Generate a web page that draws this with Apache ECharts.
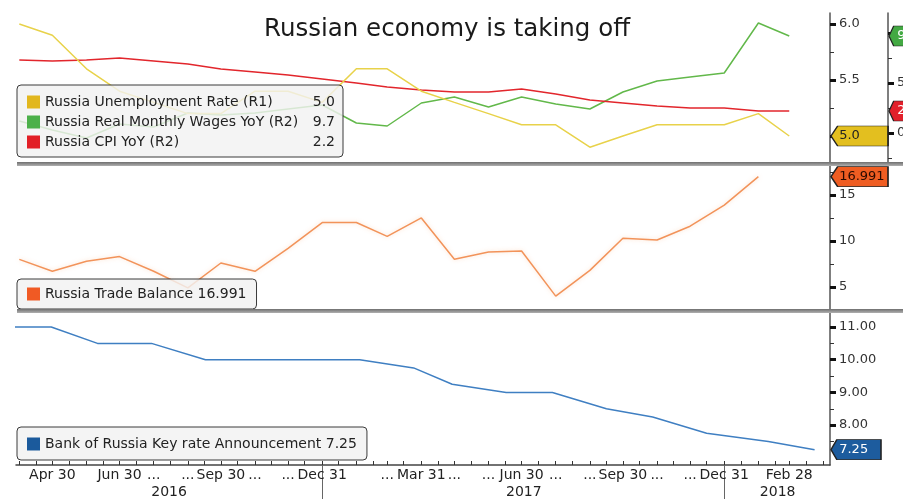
<!DOCTYPE html>
<html><head><meta charset="utf-8">
<script src="https://cdn.jsdelivr.net/npm/echarts@6/dist/echarts.min.js"></script>
<style>html,body{margin:0;padding:0;background:#fff}#c{width:903px;height:499px}</style>
</head><body><div id="c"></div>
<script>
// ---------- data ----------
const months = ['2016-03-31','2016-04-30','2016-05-31','2016-06-30','2016-07-31','2016-08-31','2016-09-30','2016-10-31','2016-11-30','2016-12-31',
  '2017-01-31','2017-02-28','2017-03-31','2017-04-30','2017-05-31','2017-06-30','2017-07-31','2017-08-31','2017-09-30','2017-10-31','2017-11-30','2017-12-31',
  '2018-01-31','2018-02-28'];
const monthLabels = ['', 'Apr 30', '', 'Jun 30', '...', '...', 'Sep 30', '...', '...', 'Dec 31',
  '', '...', 'Mar 31', '...', '...', 'Jun 30', '...', '...', 'Sep 30', '...', '...', 'Dec 31',
  '', 'Feb 28'];
const years = ['2016', '2017', '2018'];

const unemployment = [6.0, 5.9, 5.6, 5.4, 5.3, 5.2, 5.2, 5.4, 5.4, 5.3, 5.6, 5.6, 5.4, 5.3, 5.2, 5.1, 5.1, 4.9, 5.0, 5.1, 5.1, 5.1, 5.2, 5.0];
const wages = [1.2, 0.3, -0.5, 0.9, 0.6, 2.0, 1.8, 2.0, 2.4, 2.8, 1.0, 0.7, 3.0, 3.6, 2.6, 3.6, 2.9, 2.4, 4.1, 5.2, 5.6, 6.0, 11.0, 9.7];
const cpi = [7.3, 7.2, 7.3, 7.5, 7.2, 6.9, 6.4, 6.1, 5.8, 5.4, 5.0, 4.6, 4.3, 4.1, 4.1, 4.4, 3.9, 3.3, 3.0, 2.7, 2.5, 2.5, 2.2, 2.2];
const trade = [8.0, 6.7, 7.8, 8.3, 6.7, 4.9, 7.6, 6.7, 9.2, 12.0, 12.0, 10.5, 12.5, 8.0, 8.8, 8.9, 4.0, 6.8, 10.3, 10.1, 11.6, 13.9, 16.991, null];
const keyRateDates = ['2016-03-18','2016-04-29','2016-06-10','2016-07-29','2016-09-16','2016-10-28','2016-12-16','2017-02-03','2017-03-24','2017-04-28',
  '2017-06-16','2017-07-28','2017-09-15','2017-10-27','2017-12-15','2018-02-09','2018-03-23'];
const keyRate = [11.0, 11.0, 10.5, 10.5, 10.0, 10.0, 10.0, 10.0, 9.75, 9.25, 9.0, 9.0, 8.5, 8.25, 7.75, 7.5, 7.25];

const r1Ticks = [5.0, 5.5, 6.0], r1Minor = [5.25, 5.75];
const r2Ticks = [0, 5, 10], r2Minor = [-2.5, 2.5, 7.5];
const tradeTicks = [5, 10, 15], tradeMinor = [7.5, 12.5, 17.5];
const keyTicks = [8, 9, 10, 11], keyMinor = [7.5, 8.5, 9.5, 10.5];

const names = {
  u: 'Russia Unemployment Rate (R1)',
  w: 'Russia Real Monthly Wages YoY (R2)',
  c: 'Russia CPI YoY (R2)',
  t: 'Russia Trade Balance',
  k: 'Bank of Russia Key rate Announcement'
};
const lastText = {};
lastText[names.u] = unemployment[unemployment.length - 1].toFixed(1);
lastText[names.w] = wages[wages.length - 1].toFixed(1);
lastText[names.c] = cpi[cpi.length - 1].toFixed(1);
lastText[names.t] = String(trade.filter(v => v != null).slice(-1)[0]);
lastText[names.k] = keyRate[keyRate.length - 1].toFixed(2);

// ---------- layout / style ----------
const FONT = '"DejaVu Sans", Verdana, sans-serif';
function ts(s) { const p = s.split('-'); return new Date(+p[0], +p[1] - 1, +p[2]).getTime(); }
const X_MIN = ts('2016-03-28'), X_MAX = ts('2018-04-06');

const labelMap = {};
months.forEach((m, i) => { labelMap[ts(m)] = monthLabels[i]; });
const xTicks = [];
for (let y = 2016; y <= 2018; y++) for (let m = 0; m < 12; m++) {
  xTicks.push(new Date(y, m, 15).getTime());
  xTicks.push(new Date(y, m + 1, 0).getTime());
}
const yearMid = years.map(y => {
  const a = Math.max(X_MIN, ts(y + '-01-01'));
  const b = Math.min(X_MAX, ts(y + '-12-31'));
  return (a + b) / 2;
});
const yearSep = years.slice(0, -1).map(y => ts(y + '-12-31'));

function xHidden(grid) {
  return { type: 'value', gridIndex: grid, min: X_MIN, max: X_MAX, show: false, splitLine: { show: false } };
}
function axisMain(grid, min, max, offset, vals, fmt) {
  return {
    type: 'value', gridIndex: grid, position: 'right', offset: offset, min: min, max: max,
    splitLine: { show: false },
    axisLine: { show: true, lineStyle: { color: '#555', width: 1.5 } },
    axisTick: { show: true, customValues: vals, length: 6, lineStyle: { color: '#111', width: 3 } },
    axisLabel: { customValues: vals, formatter: fmt, margin: 9, color: '#333', fontSize: 13, fontFamily: FONT }
  };
}
function axisMinor(grid, min, max, offset, vals) {
  return {
    type: 'value', gridIndex: grid, position: 'right', offset: offset, min: min, max: max,
    splitLine: { show: false }, axisLine: { show: false }, axisLabel: { show: false },
    axisTick: { show: true, customValues: vals, length: 4, lineStyle: { color: '#333', width: 1 } }
  };
}
const PENT = 'path://M0,10 L7,0 L60,0 L60,20 L7,20 Z';
function tag(value, text, fill, textColor, dx, w) {
  return {
    silent: true,
    animation: false,
    data: [{
      coord: [X_MAX, value],
      symbol: PENT, symbolKeepAspect: false, symbolSize: [w, 20], symbolOffset: [dx + w / 2, 0],
      itemStyle: { color: fill, borderColor: '#222', borderWidth: 1 },
      label: { show: true, position: 'insideLeft', distance: 9, formatter: text, color: textColor, fontSize: 13, fontFamily: FONT }
    }]
  };
}
function legendBox(top, data, pad, gap, formatter, rich) {
  return {
    orient: 'vertical', left: 17, top: top, data: data, icon: 'rect',
    itemWidth: 13, itemHeight: 13, itemGap: gap, padding: pad,
    backgroundColor: 'rgba(242,242,242,0.82)', borderColor: '#3a3a3a', borderWidth: 1, borderRadius: 4,
    selectedMode: false, formatter: formatter,
    itemStyle: { borderWidth: 0 },
    textStyle: { fontFamily: FONT, fontSize: 14, lineHeight: 14, color: '#222', rich: rich }
  };
}
const band = { type: 'linear', x: 0, y: 0, x2: 0, y2: 1, colorStops: [{ offset: 0, color: '#6f6f6f' }, { offset: 1, color: '#b0b0b0' }] };

const cU = '#e8d24a', cW = '#62b84a', cC = '#e2262c', cT = '#f2935a', cK = '#3f7fc2';

const chart = echarts.init(document.getElementById('c'), null, { renderer: 'canvas' });
chart.setOption({
  animation: false,
  backgroundColor: '#fff',
  title: { text: 'Russian economy is taking off', left: 259, top: 12,
    textStyle: { fontFamily: FONT, fontSize: 24.5, fontWeight: 'normal', color: '#1a1a1a' } },
  grid: [
    { left: 16, right: 73, top: 13, height: 149, outerBoundsMode: 'none', containLabel: false },
    { left: 16, right: 73, top: 166, height: 143, outerBoundsMode: 'none', containLabel: false },
    { left: 16, right: 73, top: 313, height: 152, outerBoundsMode: 'none', containLabel: false }
  ],
  xAxis: [
    xHidden(0), xHidden(1),
    { type: 'value', gridIndex: 2, min: X_MIN, max: X_MAX, position: 'bottom',
      splitLine: { show: false },
      axisLine: { show: true, lineStyle: { color: '#444', width: 1.5 } },
      axisTick: { show: true, inside: true, length: 4, customValues: xTicks, lineStyle: { color: '#333', width: 1 } },
      axisLabel: { customValues: months.map(ts), formatter: v => labelMap[v] || '', margin: 3, color: '#222', fontSize: 14, fontFamily: FONT } },
    { type: 'value', gridIndex: 2, min: X_MIN, max: X_MAX, position: 'bottom',
      splitLine: { show: false }, axisLine: { show: false },
      axisTick: { show: true, inside: false, length: 34, customValues: yearSep, lineStyle: { color: '#666', width: 1 } },
      axisLabel: { customValues: yearMid, formatter: v => years[yearMid.indexOf(v)] || '', margin: 20, color: '#222', fontSize: 14, fontFamily: FONT } }
  ],
  yAxis: [
    axisMain(0, 4.768, 6.098, 0, r1Ticks, v => v.toFixed(1)),
    axisMain(0, -2.9, 12.0, 58, r2Ticks, v => String(v)),
    axisMinor(0, 4.768, 6.098, 0, r1Minor),
    axisMinor(0, -2.9, 12.0, 58, r2Minor),
    axisMain(1, 2.6, 18.15, 0, tradeTicks, v => String(v)),
    axisMinor(1, 2.6, 18.15, 0, tradeMinor),
    axisMain(2, 6.78, 11.43, 0, keyTicks, v => v.toFixed(2)),
    axisMinor(2, 6.78, 11.43, 0, keyMinor)
  ],
  legend: [
    legendBox(85, [
      { name: names.u, itemStyle: { color: '#e2b71e' } },
      { name: names.w, itemStyle: { color: '#4cb04a' } },
      { name: names.c, itemStyle: { color: '#e21f26' } }
    ], [10, 8, 8, 10], 6, n => '{n|' + n + '}{v|' + lastText[n] + '}', {
      n: { width: 262, fontFamily: FONT, fontSize: 14, lineHeight: 14, color: '#222' },
      v: { width: 28, align: 'right', fontFamily: FONT, fontSize: 14, lineHeight: 14, color: '#222' }
    }),
    legendBox(279, [{ name: names.t, itemStyle: { color: '#f05a24' } }], [8, 10, 8, 10], 5, n => n + ' ' + lastText[n]),
    legendBox(427, [{ name: names.k, itemStyle: { color: '#1b5a9c' } }], [10, 10, 9, 10], 5, n => n + ' ' + lastText[n])
  ],
  series: [
    { name: names.u, type: 'line', xAxisIndex: 0, yAxisIndex: 0, showSymbol: false, z: 3,
      data: months.map((d, i) => [ts(d), unemployment[i]]),
      lineStyle: { color: cU, width: 1.5 }, itemStyle: { color: cU },
      markPoint: tag(unemployment[unemployment.length - 1], lastText[names.u], '#e3bf1f', '#222', 1, 57) },
    { name: names.w, type: 'line', xAxisIndex: 0, yAxisIndex: 1, showSymbol: false, z: 2,
      data: months.map((d, i) => [ts(d), wages[i]]),
      lineStyle: { color: cW, width: 1.5 }, itemStyle: { color: cW },
      markPoint: tag(wages[wages.length - 1], lastText[names.w], '#43a943', '#fff', 59, 40) },
    { name: names.c, type: 'line', xAxisIndex: 0, yAxisIndex: 1, showSymbol: false, z: 2,
      data: months.map((d, i) => [ts(d), cpi[i]]),
      lineStyle: { color: cC, width: 1.5 }, itemStyle: { color: cC },
      markPoint: tag(cpi[cpi.length - 1], lastText[names.c], '#e2202b', '#fff', 59, 40) },
    { name: names.t, type: 'line', xAxisIndex: 1, yAxisIndex: 4, showSymbol: false,
      data: months.map((d, i) => [ts(d), trade[i]]),
      lineStyle: { color: cT, width: 1.5, shadowColor: 'rgba(245,160,100,0.35)', shadowBlur: 4 }, itemStyle: { color: cT },
      markPoint: tag(trade.filter(v => v != null).slice(-1)[0], lastText[names.t], '#ef5d22', '#2a0a00', 1, 57) },
    { name: names.k, type: 'line', xAxisIndex: 2, yAxisIndex: 6, showSymbol: false,
      data: keyRateDates.map((d, i) => [ts(d), keyRate[i]]),
      lineStyle: { color: cK, width: 1.5 }, itemStyle: { color: cK },
      markPoint: tag(keyRate[keyRate.length - 1], lastText[names.k], '#1d5c9e', '#fff', 1, 50) }
  ],
  graphic: [
    { type: 'rect', x: 17, y: 162, shape: { x: 0, y: 0, width: 886, height: 4 }, style: { fill: band }, z: 10, silent: true },
    { type: 'rect', x: 17, y: 309, shape: { x: 0, y: 0, width: 886, height: 4 }, style: { fill: band }, z: 10, silent: true }
  ]
});
</script>
</body></html>
